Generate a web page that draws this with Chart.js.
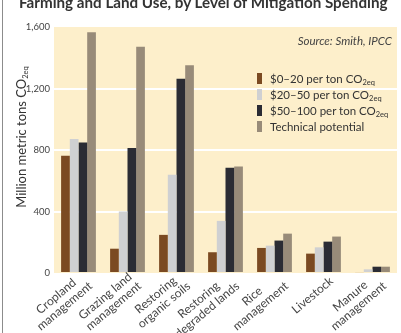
<!DOCTYPE html>
<html>
<head>
<meta charset="utf-8">
<script src="https://cdn.jsdelivr.net/npm/chart.js@4/dist/chart.umd.min.js"></script>
<style>
  body { margin: 0; background: #fff; }
  #wrap { position: relative; width: 401px; height: 333px; overflow: hidden; font-family: Lato, sans-serif; color: #333; }
  #frame { position: absolute; left: 2px; top: 0; bottom: 0; width: 1px; background: #8c8c8c; }
  #title { position: absolute; left: 19px; top: -5px; white-space: nowrap; font-weight: bold; font-size: 15.2px; line-height: 15px; color: #333; }
  #ytitle { position: absolute; left: 21px; top: 137px; transform: translate(-50%, -50%) rotate(-90deg); white-space: nowrap; font-size: 13px; line-height: 14px; color: #333; }
  #source { position: absolute; right: 9px; top: 34px; font-style: italic; font-size: 11.5px; color: #444; }
  #legend { position: absolute; left: 257px; top: 70px; }
  .item { display: flex; align-items: center; height: 16px; font-size: 11.5px; color: #333; white-space: nowrap; }
  .sw { width: 5px; height: 11px; margin-right: 8px; flex: none; }
  sub { font-size: 7.5px; vertical-align: -2px; line-height: 0; }
  canvas { position: absolute; left: 0; top: 0; }
</style>
</head>
<body>
<div id="wrap">
  <canvas id="myChart" width="401" height="333"></canvas>
  <div id="frame"></div>
  <div id="title">Farming and Land Use, by Level of Mitigation Spending</div>
  <div id="ytitle">Million metric tons CO<sub>2eq</sub></div>
  <div id="source">Source: Smith, IPCC</div>
  <div id="legend"></div>
</div>
<script>
// ---------------------------------------------------------------- data
const categories = [
  ["Cropland", "management"],
  ["Grazing land", "management"],
  ["Restoring", "organic soils"],
  ["Restoring", "degraded lands"],
  ["Rice", "management"],
  ["Livestock"],
  ["Manure", "management"],
];
const cost0to20 = [763, 158, 248, 135, 163, 126, 6];
const cost20to50 = [871, 400, 639, 339, 178, 167, 24];
const cost50to100 = [849, 813, 1263, 684, 211, 204, 41];
const technical = [1566, 1471, 1351, 693, 256, 237, 41];

const seriesNames = ["$0–20 per ton CO", "$20–50 per ton CO", "$50–100 per ton CO", "Technical potential"];
const seriesSubs = ["2eq", "2eq", "2eq", ""];
const seriesColors = ["#7b4a22", "#cfd0d2", "#2b2c34", "#988b79"];

const yTicks = [0, 400, 800, 1200, 1600];
const yTickLabels = ["0", "400", "800", "1,200", "1,600"];

// ---------------------------------------------------------------- legend
const legendBox = document.getElementById("legend");
seriesNames.forEach((name, i) => {
  let row = document.createElement("div");
  row.className = "item";
  row.innerHTML = `<span class="sw" style="background:${seriesColors[i]}"></span><span>${name}` +
    (seriesSubs[i] ? `<sub>${seriesSubs[i]}</sub>` : "") + `</span>`;
  legendBox.appendChild(row);
});

// ---------------------------------------------------------------- plugins
const creamBg = {
  id: "creamBg",
  beforeDraw(chart) {
    const a = chart.chartArea;
    chart.ctx.save();
    chart.ctx.fillStyle = "#fdefcb";
    chart.ctx.fillRect(a.left, a.top, a.right - a.left, a.bottom - a.top);
    chart.ctx.restore();
  },
};

const xLabels = {
  id: "xLabels",
  afterDraw(chart) {
    const ctx = chart.ctx;
    const xs = chart.scales.x;
    const bottom = chart.chartArea.bottom;
    ctx.save();
    ctx.font = "12px Lato";
    ctx.fillStyle = "#444";
    ctx.textAlign = "center";
    ctx.textBaseline = "middle";
    categories.forEach((lines, i) => {
      const x = xs.getPixelForValue(i);
      const w = Math.max(...lines.map((l) => ctx.measureText(l).width));
      ctx.save();
      ctx.translate(x, bottom);
      ctx.rotate((-40 * Math.PI) / 180);
      lines.forEach((l, j) => {
        ctx.fillText(l, -w / 2 + 2, 10 + (j - (lines.length - 1) / 2) * 13);
      });
      ctx.restore();
    });
    ctx.restore();
  },
};

// ---------------------------------------------------------------- chart
const ctx = document.getElementById("myChart");
const allSeries = [cost0to20, cost20to50, cost50to100, technical];

new Chart(ctx, {
  type: "bar",
  data: {
    labels: categories,
    datasets: allSeries.map((values, i) => ({
      label: seriesNames[i] + seriesSubs[i],
      data: values,
      backgroundColor: seriesColors[i],
      borderWidth: 0,
      barPercentage: 1,
      categoryPercentage: 0.71,
    })),
  },
  options: {
    responsive: false,
    animation: false,
    layout: { padding: { top: 27, right: 4, left: 0, bottom: 0 } },
    plugins: { legend: { display: false }, tooltip: { enabled: false } },
    scales: {
      x: {
        grid: { display: false },
        border: { display: false },
        ticks: { display: false },
        afterFit: (scale) => { scale.height = 60; },
      },
      y: {
        min: 0,
        max: 1600,
        afterBuildTicks: (scale) => { scale.ticks = yTicks.map((v) => ({ value: v })); },
        afterFit: (scale) => { scale.width = 54; },
        border: { display: false },
        grid: {
          drawTicks: false,
          lineWidth: 2,
          color: (c) => (c.tick && (c.tick.value === 0 || c.tick.value === 1600) ? "rgba(0,0,0,0)" : "#ffffff"),
        },
        ticks: {
          padding: 4,
          color: "#444",
          font: { family: "Lato", size: 9.5 },
          callback: (v) => yTickLabels[yTicks.indexOf(v)],
        },
      },
    },
  },
  plugins: [creamBg, xLabels],
});
</script>
</body>
</html>
